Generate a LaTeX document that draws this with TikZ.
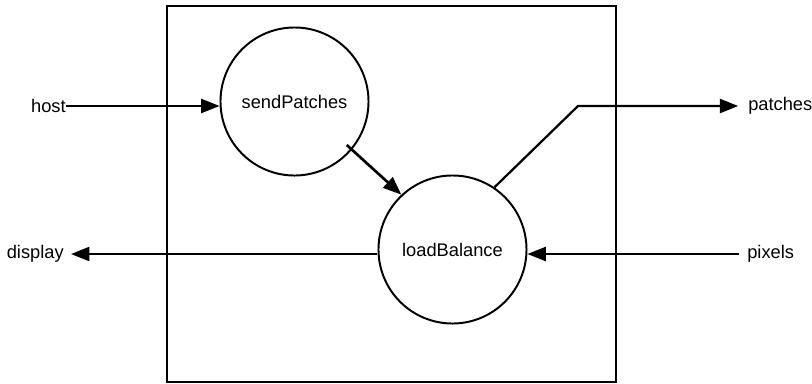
\documentclass[tikz,border=0pt]{standalone}
\usepackage{fontspec}
\setmainfont{Liberation Sans}
\usetikzlibrary{arrows.meta,calc}
\tikzset{
 proc/.style={draw,circle,line width=1.4pt,minimum size=3.7cm,inner sep=0pt},
 port/.style={inner sep=0pt},
 flow/.style={line width=1.3pt,-{Triangle[length=13pt,width=10pt]}}
}
\begin{document}
\begin{tikzpicture}[x=0.025cm,y=-0.025cm,every node/.style={font=\fontsize{13}{15}\selectfont}]
 \useasboundingbox (0,0) rectangle (812,383);
 \draw [line width=1.2pt] (167,6) rectangle (616,382);
 \node [proc] (sp) at (294.5,101.5) {sendPatches};
 \node [proc] (lb) at (452.5,249.5) {loadBalance};
 \node [port,anchor=east] (host) at (66,106) {host};
 \node [port,anchor=east] (dsp) at (64,254) {display};
 \node [port,anchor=west] (pix) at (747,254) {pixels};
 \node [port,anchor=west] (pat) at (748,106) {patches};
 \coordinate (knee) at (578,106);
 \draw [flow] (host.east) -- (host.east -| sp.west);
 \draw [flow,line width=1.9pt,shorten <=-5pt] (sp.-40) -- (lb.133);
 \draw [flow,shorten >=5pt] (lb.west |- dsp.east) -- (dsp.east);
 \draw [flow,shorten <=6pt] (pix.west) -- (pix.west -| lb.east);
 \draw [flow,line width=1.6pt,shorten >=7pt] (lb.56) -- (knee) -- (pat.west);
\end{tikzpicture}
\end{document}
